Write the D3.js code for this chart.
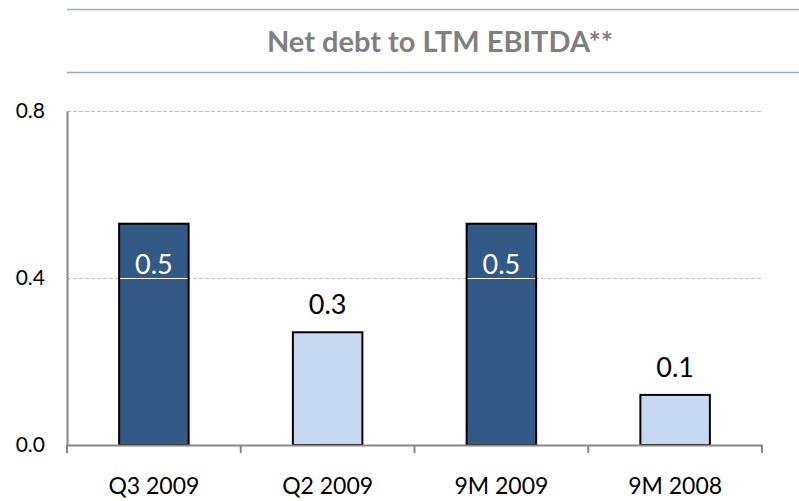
<!DOCTYPE html>
<html>
<head>
<meta charset="utf-8">
<script src="https://cdn.jsdelivr.net/npm/d3@7"></script>
<style>
  body { margin: 0; background: #fff; }
  svg { display: block; }
  svg text { font-family: Lato, "Open Sans", sans-serif; }
</style>
</head>
<body>
<svg id="chart" width="799" height="501"></svg>
<script>
// chart data
var categories = ["Q3 2009", "Q2 2009", "9M 2009", "9M 2008"];
var values = [0.53, 0.27, 0.53, 0.12];
var labels = ["0.5", "0.3", "0.5", "0.1"];
var dark = [true, false, true, false];
var yTicks = [0.0, 0.4, 0.8];
var title = "Net debt to LTM EBITDA**";

var svg = d3.select("#chart"),
    margin = {top: 111, right: 37, bottom: 56, left: 67},
    width = +svg.attr("width") - margin.left - margin.right,
    height = +svg.attr("height") - margin.top - margin.bottom;

// title with rules above and below
svg.append("line").attr("x1", 67).attr("x2", 799).attr("y1", 9.5).attr("y2", 9.5)
    .attr("stroke", "#8eaad0").attr("stroke-width", 1.5);
svg.append("line").attr("x1", 67).attr("x2", 799).attr("y1", 72.5).attr("y2", 72.5)
    .attr("stroke", "#8eaad0").attr("stroke-width", 1.5);
svg.append("text")
    .attr("x", 440).attr("y", 52)
    .attr("text-anchor", "middle")
    .attr("font-size", 29).attr("font-weight", "bold")
    .attr("fill", "#7f7f7f")
    .text(title);

var g = svg.append("g").attr("transform", "translate(" + margin.left + "," + margin.top + ")");

var x = d3.scaleBand().domain(categories).range([0, width]).paddingInner(0.6).paddingOuter(0.3);
var y = d3.scaleLinear().domain([0, 0.8]).range([height, 0]);

// gridlines
g.selectAll(".grid")
    .data(yTicks.filter(function(d) { return d > 0; }))
    .enter().append("line")
    .attr("x1", 0).attr("x2", width)
    .attr("y1", function(d) { return Math.round(y(d)) + 0.5; })
    .attr("y2", function(d) { return Math.round(y(d)) + 0.5; })
    .attr("stroke", "#c0c0c0")
    .style("stroke-dasharray", "4, 2");

// y axis
var yAxis = g.append("g")
    .call(d3.axisLeft(y).tickValues(yTicks).tickFormat(d3.format(".1f")).tickSize(0).tickPadding(22));
yAxis.attr("font-family", null);
yAxis.select(".domain").attr("stroke", "#868686").attr("stroke-width", 2);
yAxis.selectAll("text").attr("font-size", 21).attr("fill", "#000");

// bars
g.selectAll(".bar")
    .data(values)
    .enter().append("rect")
    .attr("x", function(d, i) { return x(categories[i]); })
    .attr("y", function(d) { return y(d); })
    .attr("width", x.bandwidth())
    .attr("height", function(d) { return height - y(d); })
    .attr("fill", function(d, i) { return dark[i] ? "#335a87" : "#c6d9f1"; })
    .attr("stroke", "#000")
    .attr("stroke-width", 2);

// gridline visible through dark bars (white)
values.forEach(function(d, i) {
    if (dark[i] && d > 0.4) {
        g.append("line")
            .attr("x1", x(categories[i]) + 1).attr("x2", x(categories[i]) + x.bandwidth() - 1)
            .attr("y1", Math.round(y(0.4)) + 0.5).attr("y2", Math.round(y(0.4)) + 0.5)
            .attr("stroke", "#fff").attr("stroke-width", 1);
    }
});

// x axis
var xAxis = g.append("g")
    .attr("transform", "translate(0," + height + ")")
    .call(d3.axisBottom(x).tickSize(0).tickPadding(33));
xAxis.attr("font-family", null);
xAxis.select(".domain").attr("stroke", "#868686").attr("stroke-width", 2);
xAxis.selectAll("text").attr("font-size", 23).attr("fill", "#000");

// category dividers below axis
d3.range(categories.length + 1).forEach(function(i) {
    g.append("line")
        .attr("x1", i * width / categories.length).attr("x2", i * width / categories.length)
        .attr("y1", height).attr("y2", height + 8)
        .attr("stroke", "#868686").attr("stroke-width", 2);
});

// value labels
g.selectAll(".lbl")
    .data(values)
    .enter().append("text")
    .attr("x", function(d, i) { return x(categories[i]) + x.bandwidth() / 2; })
    .attr("y", function(d, i) { return dark[i] ? y(d) + 50 : y(d) - 18; })
    .attr("text-anchor", "middle")
    .attr("font-size", 27)
    .attr("fill", function(d, i) { return dark[i] ? "#fff" : "#000"; })
    .text(function(d, i) { return labels[i]; });
</script>
</body>
</html>
